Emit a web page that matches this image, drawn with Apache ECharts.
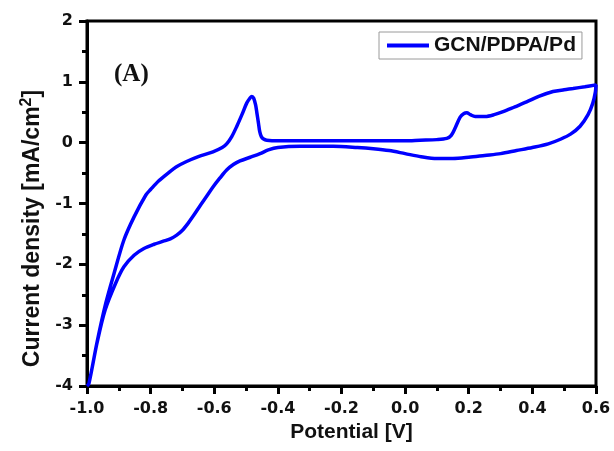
<!DOCTYPE html>
<html>
<head>
<meta charset="utf-8">
<script src="https://cdn.jsdelivr.net/npm/echarts@6/dist/echarts.min.js"></script>
<style>
  html, body { margin: 0; padding: 0; background: #fff; }
  #chart { width: 614px; height: 451px; }
</style>
</head>
<body>
<div id="chart"></div>
<script>
// Cyclic voltammogram of GCN/PDPA/Pd: anodic sweep (-1.0 V -> 0.6 V) then cathodic sweep back.
const forwardPotential = [-1.000, -0.994, -0.968, -0.941, -0.915, -0.884, -0.852, -0.815, -0.800, -0.775, -0.745, -0.720, -0.687, -0.650, -0.604, -0.575, -0.561, -0.545, -0.529, -0.513, -0.498, -0.488, -0.482, -0.476, -0.470, -0.466, -0.461, -0.457, -0.452, -0.445, -0.435, -0.400, -0.300, -0.200, -0.100, 0.000, 0.047, 0.100, 0.131, 0.145, 0.158, 0.173, 0.185, 0.194, 0.205, 0.220, 0.252, 0.280, 0.308, 0.345, 0.382, 0.420, 0.465, 0.500, 0.528, 0.565, 0.600];
const forwardCurrent = [-4.00, -3.96, -3.27, -2.64, -2.15, -1.60, -1.22, -0.86, -0.77, -0.63, -0.50, -0.40, -0.31, -0.23, -0.15, -0.08, -0.02, 0.10, 0.27, 0.46, 0.65, 0.73, 0.76, 0.73, 0.62, 0.49, 0.32, 0.18, 0.10, 0.06, 0.04, 0.03, 0.03, 0.03, 0.03, 0.03, 0.04, 0.05, 0.07, 0.12, 0.25, 0.42, 0.48, 0.49, 0.46, 0.43, 0.43, 0.46, 0.51, 0.59, 0.67, 0.76, 0.84, 0.87, 0.89, 0.92, 0.95];

const reversePotential = [0.600, 0.598, 0.590, 0.575, 0.550, 0.520, 0.490, 0.450, 0.400, 0.350, 0.300, 0.250, 0.200, 0.150, 0.100, 0.050, 0.000, -0.050, -0.100, -0.150, -0.226, -0.330, -0.400, -0.430, -0.456, -0.487, -0.519, -0.540, -0.561, -0.582, -0.604, -0.625, -0.645, -0.664, -0.683, -0.700, -0.718, -0.738, -0.760, -0.789, -0.821, -0.852, -0.884, -0.910, -0.943, -0.968, -0.994, -1.000];
const reverseCurrent = [0.95, 0.83, 0.65, 0.46, 0.27, 0.14, 0.06, -0.02, -0.08, -0.13, -0.18, -0.21, -0.24, -0.26, -0.26, -0.23, -0.18, -0.13, -0.10, -0.08, -0.06, -0.06, -0.08, -0.12, -0.18, -0.24, -0.30, -0.36, -0.45, -0.58, -0.73, -0.89, -1.04, -1.19, -1.33, -1.44, -1.52, -1.58, -1.62, -1.67, -1.74, -1.85, -2.04, -2.31, -2.75, -3.28, -3.96, -4.00];

const seriesName = 'GCN/PDPA/Pd';
const xTicks = { min: -1.0, max: 0.6, step: 0.2 };
const yTicks = { min: -4, max: 2, step: 1 };

const loop = forwardPotential.map((v, i) => [v, forwardCurrent[i]])
  .concat(reversePotential.map((v, i) => [v, reverseCurrent[i]]));

const tickFont = { fontFamily: 'DejaVu Sans', fontWeight: 'bold', fontSize: 16, color: '#111' };
const titleFont = 'Liberation Sans';

const chart = echarts.init(document.getElementById('chart'), null, { renderer: 'canvas' });
chart.setOption({
  animation: false,
  backgroundColor: '#fff',
  title: {
    text: '(A)',
    left: 114,
    top: 62,
    padding: 0,
    textStyle: { fontFamily: 'Liberation Serif', fontWeight: 'bold', fontSize: 25, color: '#111' }
  },
  legend: {
    data: [{ name: seriesName, icon: 'rect' }],
    left: 379,
    top: 32,
    padding: [3, 6, 3, 8],
    itemWidth: 42,
    itemHeight: 4,
    itemGap: 5,
    borderColor: '#9a9a9a',
    borderWidth: 1,
    textStyle: { fontFamily: titleFont, fontWeight: 'bold', fontSize: 21, color: '#111', lineHeight: 21 }
  },
  grid: {
    left: 87, right: 18, top: 21, bottom: 65,
    show: true, borderColor: '#000', borderWidth: 3
  },
  xAxis: {
    type: 'value',
    min: xTicks.min, max: xTicks.max, interval: xTicks.step,
    name: 'Potential [V]',
    nameLocation: 'middle',
    nameGap: 36,
    nameTextStyle: { fontFamily: titleFont, fontWeight: 'bold', fontSize: 21, color: '#111', padding: [0, 0, 0, 20] },
    axisLine: { show: true, onZero: false, lineStyle: { color: '#000', width: 3 } },
    axisTick: { show: true, inside: false, length: 8, lineStyle: { color: '#000', width: 3 } },
    minorTick: { show: true, splitNumber: 2, length: 5, lineStyle: { color: '#000', width: 3 } },
    splitLine: { show: false },
    axisLabel: Object.assign({ margin: 15, formatter: v => v.toFixed(1) }, tickFont)
  },
  yAxis: {
    type: 'value',
    min: yTicks.min, max: yTicks.max, interval: yTicks.step,
    name: 'Current density [mA/cm{s|2}]',
    nameLocation: 'middle',
    nameRotate: 90,
    nameGap: 39,
    nameTextStyle: {
      fontFamily: titleFont, fontWeight: 'bold', fontSize: 23, color: '#111',
      padding: [0, 50, 0, 0],
      rich: { s: { fontFamily: titleFont, fontWeight: 'bold', fontSize: 16, color: '#111', padding: [0, 0, 12, 0] } }
    },
    axisLine: { show: true, onZero: false, lineStyle: { color: '#000', width: 3 } },
    axisTick: { show: true, inside: false, length: 8, lineStyle: { color: '#000', width: 3 } },
    minorTick: { show: true, splitNumber: 2, length: 5, lineStyle: { color: '#000', width: 3 } },
    splitLine: { show: false },
    axisLabel: Object.assign({ margin: 14, formatter: v => String(v) }, tickFont)
  },
  series: [{
    name: seriesName,
    type: 'line',
    data: loop,
    symbol: 'none',
    smooth: 0.3,
    lineStyle: { color: '#0000ff', width: 3.5 },
    itemStyle: { color: '#0000ff' }
  }]
});
</script>
</body>
</html>
